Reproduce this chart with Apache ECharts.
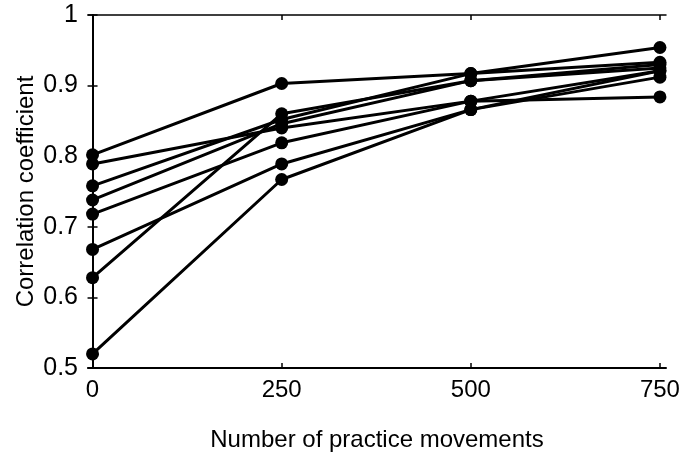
<!DOCTYPE html>
<html>
<head>
<meta charset="utf-8">
<script src="https://cdn.jsdelivr.net/npm/echarts@6/dist/echarts.min.js"></script>
<style>html,body{margin:0;padding:0;background:#fff}#c{width:686px;height:457px}</style>
</head>
<body>
<div id="c"></div>
<script>
var xValues = [0, 250, 500, 750];
var xTicks = [0, 250, 500, 750];
var subj1 = [0.802, 0.903, 0.917, 0.933];
var subj2 = [0.789, 0.840, 0.878, 0.884];
var subj3 = [0.758, 0.852, 0.917, 0.954];
var subj4 = [0.738, 0.846, 0.907, 0.925];
var subj5 = [0.718, 0.819, 0.878, 0.921];
var subj6 = [0.668, 0.789, 0.866, 0.912];
var subj7 = [0.628, 0.860, 0.907, 0.930];
var subj8 = [0.520, 0.767, 0.866, 0.921];
var allSubjects = [subj1, subj2, subj3, subj4, subj5, subj6, subj7, subj8];

var font = 'Liberation Sans';
var series = allSubjects.map(function (vals, i) {
  return {
    type: 'line',
    name: 'S' + (i + 1),
    data: vals.map(function (v, j) { return [xValues[j], v]; }),
    symbol: 'circle',
    symbolSize: 13,
    lineStyle: { color: '#000', width: 3 },
    itemStyle: { color: '#000' },
    animation: false
  };
});

var chart = echarts.init(document.getElementById('c'));
chart.setOption({
  backgroundColor: '#fff',
  animation: false,
  grid: { left: 88, right: 20, top: 15, bottom: 82 },
  xAxis: [{
    type: 'value', min: -6, max: 758,
    name: 'Number of practice movements', nameLocation: 'middle', nameGap: 60,
    nameMoveOverlap: false,
    nameTextStyle: { fontFamily: font, fontSize: 24, color: '#000' },
    axisLine: { show: true, lineStyle: { color: '#000', width: 2 } },
    axisTick: { show: true, inside: true, length: 5, customValues: xTicks, lineStyle: { color: '#000', width: 1.5 } },
    axisLabel: { customValues: xTicks, fontFamily: font, fontSize: 24, color: '#000', margin: 10 },
    splitLine: { show: false }
  }, {
    type: 'value', min: -6, max: 758, position: 'top',
    axisLine: { show: true, lineStyle: { color: '#000', width: 1.5 } },
    axisTick: { show: true, inside: true, length: 5, customValues: xTicks, lineStyle: { color: '#000', width: 1.5 } },
    axisLabel: { show: false }, splitLine: { show: false }
  }],
  yAxis: [{
    type: 'value', min: 0.5, max: 1, interval: 0.1,
    name: 'Correlation coefficient', nameLocation: 'middle', nameGap: 50,
    nameMoveOverlap: false,
    nameTextStyle: { fontFamily: font, fontSize: 24, color: '#000' },
    axisLine: { show: true, lineStyle: { color: '#000', width: 2 } },
    axisTick: { show: true, inside: true, length: 5, lineStyle: { color: '#000', width: 1.5 } },
    axisLabel: { fontFamily: font, fontSize: 25, color: '#000', margin: 10 },
    splitLine: { show: false }
  }, {
    type: 'value', min: 0.5, max: 1, interval: 0.1, position: 'right',
    axisLine: { show: true, lineStyle: { color: '#000', width: 1.5 } },
    axisTick: { show: true, inside: true, length: 5, lineStyle: { color: '#000', width: 1.5 } },
    axisLabel: { show: false }, splitLine: { show: false }
  }],
  series: series
});
</script>
</body>
</html>
